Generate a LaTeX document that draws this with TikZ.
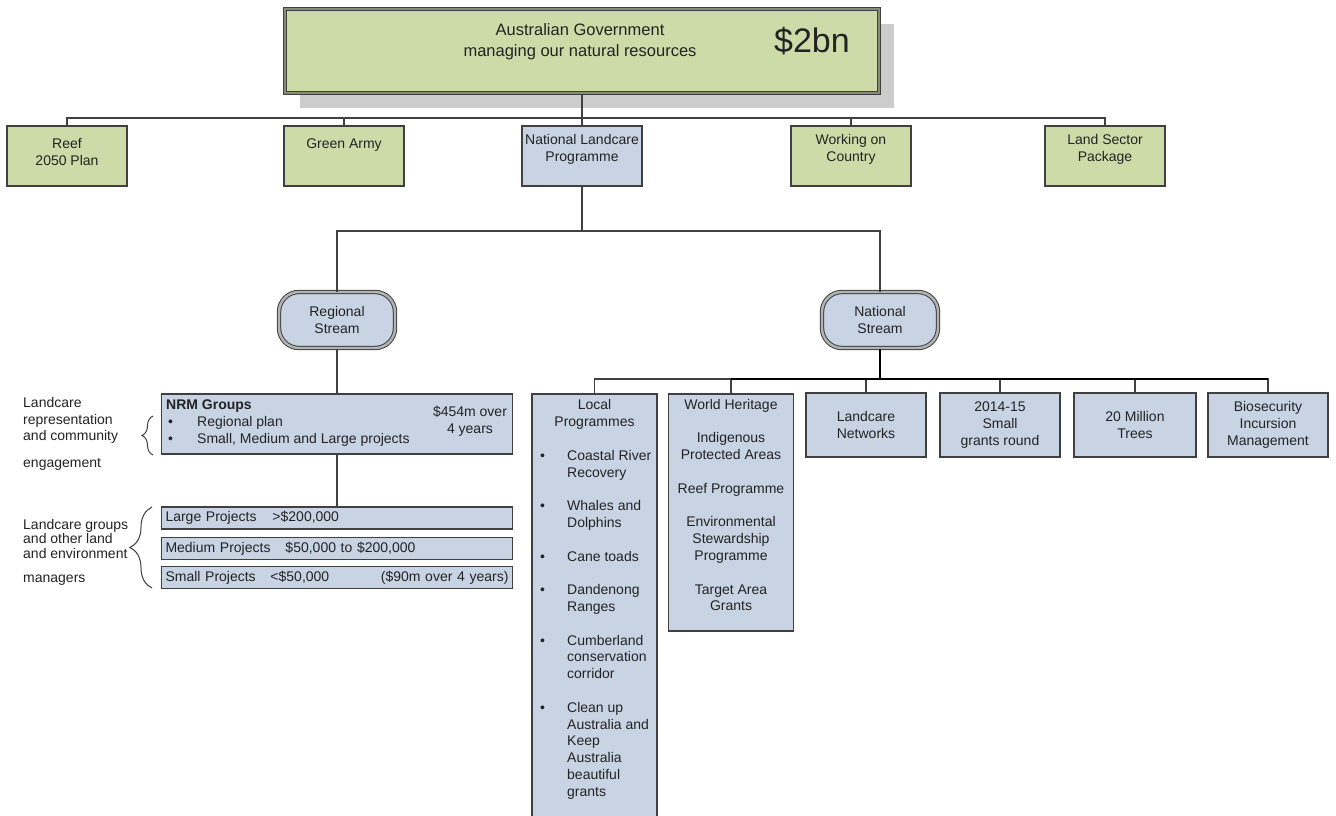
\documentclass[tikz,border=0pt]{standalone}
\usepackage{fontspec}
\setmainfont{Liberation Sans}
\usetikzlibrary{positioning,shadows,decorations.pathreplacing}
\definecolor{boxgreen}{RGB}{205,219,168}
\definecolor{boxblue}{RGB}{200,212,228}
\definecolor{edge}{RGB}{64,64,64}
\definecolor{shade}{RGB}{204,204,204}
\definecolor{ink}{RGB}{35,35,35}
\newcommand{\bul}{\makebox[27pt][l]{\textbullet}}
\newcommand{\ind}{\hspace*{27pt}}
\begin{document}
\begin{tikzpicture}[x=1pt, y=-1pt, text=ink,
    font=\fontsize{14}{16.8}\selectfont,
    conn/.style={draw=edge, line width=1.3pt},
    bus/.style={draw=black, line width=2pt},
    gbox/.style={draw=edge, line width=1.8pt, fill=boxgreen, minimum width=120, minimum height=60, inner sep=0},
    bbox/.style={draw=edge, line width=1.8pt, fill=boxblue, inner sep=0},
    govbox/.style={draw=edge, line width=1pt, double=boxgreen!50!edge, double distance=1.6pt, fill=boxgreen,
      minimum width=594, minimum height=84,
      drop shadow={shadow xshift=15pt, shadow yshift=-15pt, fill=shade, opacity=1}},
    stream/.style={draw=edge, line width=1pt, double=edge!40, double distance=2.4pt, fill=boxblue,
      rounded corners=20pt, minimum width=116, minimum height=56, align=center},
    lbl/.style={inner sep=0, align=center},
    note/.style={inner sep=0, align=left},
    curly/.style={draw=edge, line width=1pt, decorate}]
  \useasboundingbox (0,0) rectangle (1336,816);
  \fill[white] (0,0) rectangle (1336,816);
  \clip (0,0) rectangle (1336,816);

  \node[govbox] (gov) at (582,51) {};
  \node[lbl, font=\fontsize{16.5}{21}\selectfont] (govtext) at (580,42) {Australian Government\\managing our natural resources};
  \node[lbl, font=\fontsize{34}{38}\selectfont] (govsum) at (812,41) {\$2bn};

  \node[gbox] (reef) at (67,156) {};
  \node[gbox] (army) at (344,156) {};
  \node[gbox, fill=boxblue] (nlp) at (582,156) {};
  \node[gbox] (woc) at (851,156) {};
  \node[gbox] (lsp) at (1105,156) {};
  \node[lbl, below=13pt of reef.north] (reeft) {Reef\\2050 Plan};
  \node[lbl, below=13pt of army.north] (armyt) {Green Army};
  \node[lbl, below=9pt of nlp.north] (nlpt) {National Landcare\\Programme};
  \node[lbl, below=9pt of woc.north] (woct) {Working on\\Country};
  \node[lbl, below=9pt of lsp.north] (lspt) {Land Sector\\Package};

  \coordinate (bus1) at (582,118);
  \draw[conn] (gov.south) -- (bus1);
  \foreach \c in {reef, army, nlp, woc, lsp}
    \draw[conn] (bus1) -| (\c.north);

  \node[stream] (regional) at (337,320) {Regional\\Stream};
  \node[stream] (national) at (880,320) {National\\Stream};

  \coordinate (bus2) at (582,231);
  \draw[conn] (nlp.south) -- (bus2);
  \draw[conn] (bus2) -| (regional.north);
  \draw[conn] (bus2) -| (national.north);

  \node[bbox, minimum width=351, minimum height=60] (nrm) at (337,424) {};
  \node[note, anchor=north west] (nrmtext) at (166,400) {\textbf{NRM Groups}\\\hspace*{2pt}\makebox[29pt][l]{\textbullet}Regional plan\\\hspace*{2pt}\makebox[29pt][l]{\textbullet}Small, Medium and Large projects};
  \node[lbl] (nrmsum) at (470,421) {\$454m over\\4 years};

  \node[bbox, minimum height=22, text width=343, align=left, inner xsep=4pt] (large) at (337,518) {\makebox[107pt][l]{Large Projects}>\$200,000};
  \node[bbox, minimum height=22, text width=343, align=left, inner xsep=4pt] (medium) at (337,548.5) {\makebox[120pt][l]{Medium Projects}\$50,000 to \$200,000};
  \node[bbox, minimum height=22, text width=343, align=left, inner xsep=4pt] (small) at (337,577.5) {\makebox[105pt][l]{Small Projects}<\$50,000\hfill(\$90m over 4 years)};

  \draw[conn] (regional.south) -- (nrm.north);
  \draw[conn] (nrm.south) -- (large.north);

  \node[note, anchor=north west] (repnote) at (23,397) {Landcare\\representation\\and community};
  \node[note, anchor=north west] (engnote) at (23,458) {engagement};
  \node[note, anchor=north west, font=\fontsize{14}{14.5}\selectfont] (grpnote) at (23,519) {Landcare groups\\and other land\\and environment};
  \node[note, anchor=north west] (mgrnote) at (23,575) {managers};
  \coordinate (b1top) at (153,416);
  \coordinate (b1bot) at (153,455);
  \coordinate (b2top) at (152,507);
  \coordinate (b2bot) at (152,588);
  \draw[curly, decoration={brace, amplitude=11pt}] (b1bot) -- (b1top);
  \draw[curly, decoration={brace, amplitude=22pt}] (b2bot) -- (b2top);

  \node[bbox, minimum width=125, minimum height=440, anchor=north] (local) at (594.5,393) {};
  \node[lbl, anchor=north] (localt) at (594.5,399) {Local\\Programmes};
  \node[note, anchor=north west] (locali) at (540,450) {\bul Coastal River\\\ind Recovery\\[16.8pt]\bul Whales and\\\ind Dolphins\\[16.8pt]\bul Cane toads\\[16.8pt]\bul Dandenong\\\ind Ranges\\[16.8pt]\bul Cumberland\\\ind conservation\\\ind corridor\\[16.8pt]\bul Clean up\\\ind Australia and\\\ind Keep\\\ind Australia\\\ind beautiful\\\ind grants};

  \node[bbox, minimum width=125, minimum height=237, anchor=north] (wh) at (731,393) {};
  \node[lbl, anchor=north] (wht) at (731,399) {World Heritage\\[16.8pt]Indigenous\\Protected Areas\\[16.8pt]Reef Programme\\[16.8pt]Environmental\\Stewardship\\Programme\\[16.8pt]Target Area\\Grants};

  \node[bbox, minimum width=120, minimum height=64, align=center] (lcn) at (866,425) {Landcare\\Networks};
  \node[bbox, minimum width=120, minimum height=64, align=center] (grant) at (1000,425) {2014-15\\Small\\grants round};
  \node[bbox, minimum width=122, minimum height=64, align=center] (trees) at (1135,425) {20 Million\\Trees};
  \node[bbox, minimum width=120, minimum height=64, align=center] (bio) at (1268,425) {Biosecurity\\Incursion\\Management};

  \coordinate (bus3) at (880,379);
  \foreach \c in {local, wh, lcn, grant, trees, bio}
    \draw[conn] (bus3) -| (\c.north);
  \draw[bus] (wh.north |- bus3) -- (bio.north |- bus3);
  \draw[bus] (national.south) -- (bus3);
\end{tikzpicture}
\end{document}
